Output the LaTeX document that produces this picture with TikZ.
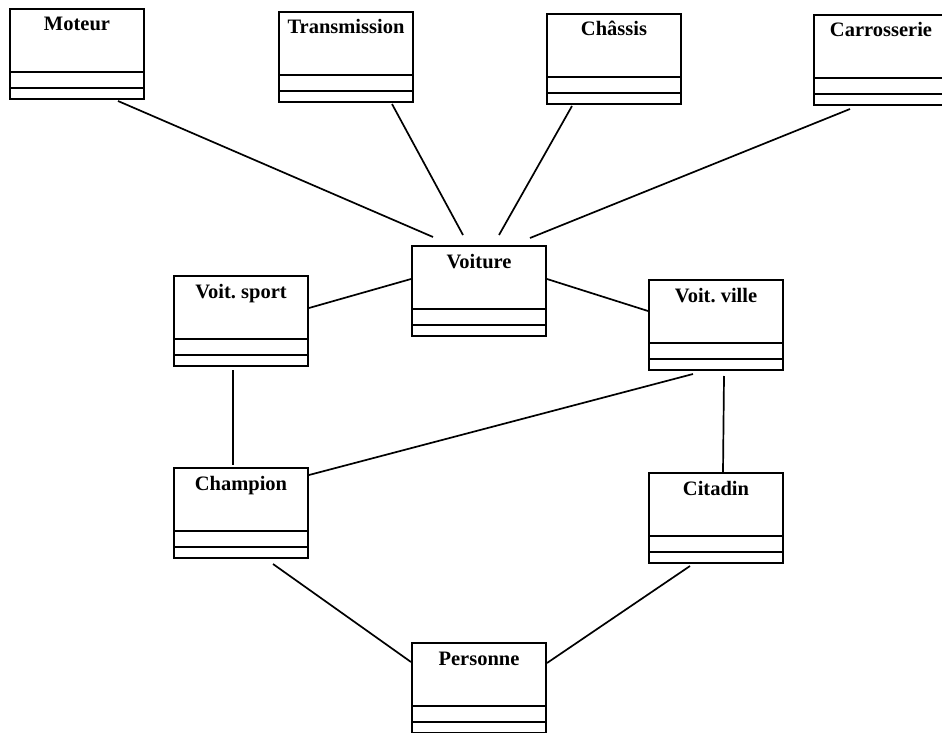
\documentclass[tikz,border=0pt]{standalone}
\usepackage{fontspec}
\setmainfont{Liberation Serif}
\usetikzlibrary{positioning}

\tikzset{
    classbox/.style={draw, line width=2pt, minimum width=134pt, inner sep=0pt,
        text height=22pt, text depth=68pt, font=\fontsize{20.5}{24}\selectfont\bfseries},
    assoc/.style={line width=1.7pt}
}

\begin{document}
\begin{tikzpicture}[x=1pt, y=-1pt]
                \useasboundingbox (0,0) rectangle (942,733);

                % Composants
                \node[classbox] (moteur) at (77,54) {Moteur};
                \node[classbox] (transmission) at (346,57) {Transmission};
                \node[classbox] (chassis) at (614,59) {Châssis};
                \node[classbox] (carrosserie) at (881,60) {Carrosserie};

                % Voitures
                \node[classbox] (voiture) at (479,291) {Voiture};
                \node[classbox] (sport) at (241,321) {Voit.\ sport};
                \node[classbox] (ville) at (716,325) {Voit.\ ville};

                % Personnes
                \node[classbox] (champion) at (241,513) {Champion};
                \node[classbox] (citadin) at (716,518) {Citadin};
                \node[classbox] (personne) at (479,688) {Personne};

                % Compartiments
                \foreach \n in {moteur,transmission,chassis,carrosserie,voiture,sport,ville,champion,citadin,personne} {
                    \draw[line width=2pt] ([yshift=28pt]\n.south west) -- ([yshift=28pt]\n.south east);
                    \draw[line width=2pt] ([yshift=12pt]\n.south west) -- ([yshift=12pt]\n.south east);
                }

                % Liens
                \draw[assoc] ([xshift=41pt,yshift=-1pt]moteur.south) -- ([xshift=-46pt,yshift=8pt]voiture.north);
                \draw[assoc] ([xshift=46pt,yshift=-1pt]transmission.south) -- ([xshift=-16pt,yshift=10pt]voiture.north);
                \draw[assoc] ([xshift=-42pt,yshift=-1pt]chassis.south) -- ([xshift=20pt,yshift=10pt]voiture.north);
                \draw[assoc] ([xshift=-31pt,yshift=-3pt]carrosserie.south) -- ([xshift=51pt,yshift=7pt]voiture.north);
                \draw[assoc] ([yshift=12pt]voiture.west) -- ([yshift=13pt]sport.east);
                \draw[assoc] ([yshift=12pt]voiture.east) -- ([yshift=14pt]ville.west);
                \draw[assoc] ([xshift=-8pt,yshift=-3pt]sport.south) -- ([xshift=-8pt,yshift=2pt]champion.north);
                \draw[assoc] ([xshift=-23pt,yshift=-3pt]ville.south) -- ([yshift=38pt]champion.east);
                \draw[assoc] ([xshift=8pt,yshift=-5pt]ville.south) -- ([xshift=7pt]citadin.north);
                \draw[assoc] ([xshift=32pt,yshift=-5pt]champion.south) -- ([yshift=26pt]personne.west);
                \draw[assoc] ([xshift=-26pt,yshift=-2pt]citadin.south) -- ([yshift=25pt]personne.east);
            \end{tikzpicture}
\end{document}
